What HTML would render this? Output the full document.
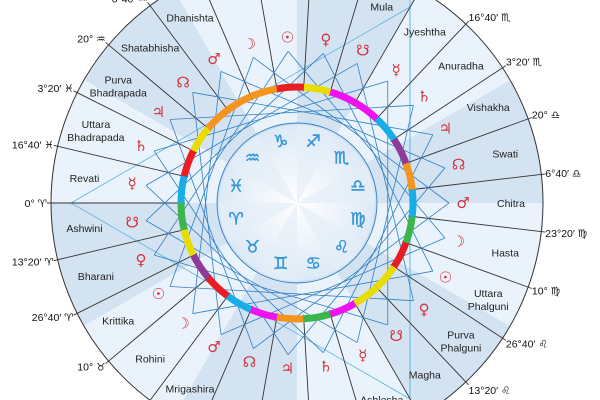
<!DOCTYPE html>
<html><head><meta charset="utf-8"><style>
html,body{margin:0;padding:0;background:#fff;width:600px;height:400px;overflow:hidden}
svg{display:block;overflow:hidden}
.nk{font-family:"Liberation Sans",sans-serif;font-size:10.5px;fill:#222;text-anchor:middle}
.dg{font-family:"Liberation Sans","DejaVu Sans",sans-serif;font-size:10.5px;fill:#111}
.pl{font-family:"DejaVu Sans",sans-serif;font-size:15px;fill:#d2333b;text-anchor:middle;dominant-baseline:central}
.sg{font-family:"DejaVu Sans",sans-serif;font-size:17px;font-weight:bold;fill:#3a98d6;text-anchor:middle;dominant-baseline:central;stroke:#3a98d6;stroke-width:0.5}
</style></head><body>
<svg width="600" height="400" viewBox="0 0 600 400" xmlns="http://www.w3.org/2000/svg">
<defs>
<radialGradient id="cg" cx="0" cy="0" r="80" gradientUnits="userSpaceOnUse">
<stop offset="0" stop-color="#ffffff"/><stop offset="1" stop-color="#c9ddf0"/>
</radialGradient>
<clipPath id="cp"><rect x="-297" y="-203" width="600" height="400"/></clipPath>
<path id="wd" d="M0 0 L-246 0 A246 246 0 0 0 -213.04 123 Z" fill="#d4e3f2"/>
<path id="wl" d="M0 0 L-246 0 A246 246 0 0 0 -213.04 123 Z" fill="#eaf3fb"/>
<path id="iw" d="M0 0 L-80 0 A80 80 0 0 0 -69.28 40 Z" fill="#d7e6f4" opacity="0.7"/>
<line id="ch" x1="-152" y1="0" x2="43.6" y2="145.6" stroke="#2f7fc4" stroke-width="0.8"/>
<line id="bl" x1="-112" y1="0" x2="-250" y2="0" stroke="#333" stroke-width="0.9"/>
</defs>
<g transform="translate(297,203)" clip-path="url(#cp)">
<use href="#wd" transform="rotate(0)"/><use href="#wl" transform="rotate(-30)"/>
<use href="#wd" transform="rotate(-60)"/><use href="#wl" transform="rotate(-90)"/>
<use href="#wd" transform="rotate(-120)"/><use href="#wl" transform="rotate(-150)"/>
<use href="#wd" transform="rotate(-180)"/><use href="#wl" transform="rotate(-210)"/>
<use href="#wd" transform="rotate(-240)"/><use href="#wl" transform="rotate(-270)"/>
<use href="#wd" transform="rotate(-300)"/><use href="#wl" transform="rotate(-330)"/>
<circle r="246" fill="none" stroke="#333" stroke-width="1"/>
<circle r="80" fill="url(#cg)"/>
<use href="#iw" transform="rotate(0)"/><use href="#iw" transform="rotate(-60)"/>
<use href="#iw" transform="rotate(-120)"/><use href="#iw" transform="rotate(-180)"/>
<use href="#iw" transform="rotate(-240)"/><use href="#iw" transform="rotate(-300)"/>
<circle r="78" fill="#ffffff" opacity="0.35"/>
<circle r="80" fill="none" stroke="#2f7fc4" stroke-width="0.9"/>
<polygon points="-226,0 113,-196 113,196" fill="none" stroke="#5bb4e0" stroke-width="0.8"/>
<line x1="113" y1="-203" x2="113" y2="196" stroke="#5bb4e0" stroke-width="0.8"/>
<use href="#bl" transform="rotate(0)"/><use href="#bl" transform="rotate(-13.333)"/><use href="#bl" transform="rotate(-26.667)"/>
<use href="#bl" transform="rotate(-40)"/><use href="#bl" transform="rotate(-53.333)"/><use href="#bl" transform="rotate(-66.667)"/>
<use href="#bl" transform="rotate(-80)"/><use href="#bl" transform="rotate(-93.333)"/><use href="#bl" transform="rotate(-106.667)"/>
<use href="#bl" transform="rotate(-120)"/><use href="#bl" transform="rotate(-133.333)"/><use href="#bl" transform="rotate(-146.667)"/>
<use href="#bl" transform="rotate(-160)"/><use href="#bl" transform="rotate(-173.333)"/><use href="#bl" transform="rotate(-186.667)"/>
<use href="#bl" transform="rotate(-200)"/><use href="#bl" transform="rotate(-213.333)"/><use href="#bl" transform="rotate(-226.667)"/>
<use href="#bl" transform="rotate(-240)"/><use href="#bl" transform="rotate(-253.333)"/><use href="#bl" transform="rotate(-266.667)"/>
<use href="#bl" transform="rotate(-280)"/><use href="#bl" transform="rotate(-293.333)"/><use href="#bl" transform="rotate(-306.667)"/>
<use href="#bl" transform="rotate(-320)"/><use href="#bl" transform="rotate(-333.333)"/><use href="#bl" transform="rotate(-346.667)"/>
<g>
<use href="#ch" transform="rotate(-6.667)"/><use href="#ch" transform="rotate(-20)"/><use href="#ch" transform="rotate(-33.333)"/>
<use href="#ch" transform="rotate(-46.667)"/><use href="#ch" transform="rotate(-60)"/><use href="#ch" transform="rotate(-73.333)"/>
<use href="#ch" transform="rotate(-86.667)"/><use href="#ch" transform="rotate(-100)"/><use href="#ch" transform="rotate(-113.333)"/>
<use href="#ch" transform="rotate(-126.667)"/><use href="#ch" transform="rotate(-140)"/><use href="#ch" transform="rotate(-153.333)"/>
<use href="#ch" transform="rotate(-166.667)"/><use href="#ch" transform="rotate(-180)"/><use href="#ch" transform="rotate(-193.333)"/>
<use href="#ch" transform="rotate(-206.667)"/><use href="#ch" transform="rotate(-220)"/><use href="#ch" transform="rotate(-233.333)"/>
<use href="#ch" transform="rotate(-246.667)"/><use href="#ch" transform="rotate(-260)"/><use href="#ch" transform="rotate(-273.333)"/>
<use href="#ch" transform="rotate(-286.667)"/><use href="#ch" transform="rotate(-300)"/><use href="#ch" transform="rotate(-313.333)"/>
<use href="#ch" transform="rotate(-326.667)"/><use href="#ch" transform="rotate(-340)"/><use href="#ch" transform="rotate(-353.333)"/>
</g>
<g fill="none" stroke-width="7">
<path d="M-116 0 A116 116 0 0 0 -112.87 26.75" stroke="#3cb54a" transform="rotate(0)"/>
<path d="M-116 0 A116 116 0 0 0 -112.87 26.75" stroke="#e8dc00" transform="rotate(-13.333)"/>
<path d="M-116 0 A116 116 0 0 0 -112.87 26.75" stroke="#8e3a96" transform="rotate(-26.667)"/>
<path d="M-116 0 A116 116 0 0 0 -112.87 26.75" stroke="#ea1c24" transform="rotate(-40)"/>
<path d="M-116 0 A116 116 0 0 0 -112.87 26.75" stroke="#17aee8" transform="rotate(-53.333)"/>
<path d="M-116 0 A116 116 0 0 0 -112.87 26.75" stroke="#f112f0" transform="rotate(-66.667)"/>
<path d="M-116 0 A116 116 0 0 0 -112.87 26.75" stroke="#f7941d" transform="rotate(-80)"/>
<path d="M-116 0 A116 116 0 0 0 -112.87 26.75" stroke="#3cb54a" transform="rotate(-93.333)"/>
<path d="M-116 0 A116 116 0 0 0 -112.87 26.75" stroke="#f112f0" transform="rotate(-106.667)"/>
<path d="M-116 0 A116 116 0 0 0 -112.87 26.75" stroke="#e8dc00" transform="rotate(-120)"/>
<path d="M-116 0 A116 116 0 0 0 -112.87 26.75" stroke="#e8dc00" transform="rotate(-133.333)"/>
<path d="M-116 0 A116 116 0 0 0 -112.87 26.75" stroke="#ea1c24" transform="rotate(-146.667)"/>
<path d="M-116 0 A116 116 0 0 0 -112.87 26.75" stroke="#3cb54a" transform="rotate(-160)"/>
<path d="M-116 0 A116 116 0 0 0 -112.87 26.75" stroke="#17aee8" transform="rotate(-173.333)"/>
<path d="M-116 0 A116 116 0 0 0 -112.87 26.75" stroke="#f7941d" transform="rotate(-186.667)"/>
<path d="M-116 0 A116 116 0 0 0 -112.87 26.75" stroke="#8e3a96" transform="rotate(-200)"/>
<path d="M-116 0 A116 116 0 0 0 -112.87 26.75" stroke="#17aee8" transform="rotate(-213.333)"/>
<path d="M-116 0 A116 116 0 0 0 -112.87 26.75" stroke="#f112f0" transform="rotate(-226.667)"/>
<path d="M-116 0 A116 116 0 0 0 -112.87 26.75" stroke="#f112f0" transform="rotate(-240)"/>
<path d="M-116 0 A116 116 0 0 0 -112.87 26.75" stroke="#e8dc00" transform="rotate(-253.333)"/>
<path d="M-116 0 A116 116 0 0 0 -112.87 26.75" stroke="#ea1c24" transform="rotate(-266.667)"/>
<path d="M-116 0 A116 116 0 0 0 -112.87 26.75" stroke="#f7941d" transform="rotate(-280)"/>
<path d="M-116 0 A116 116 0 0 0 -112.87 26.75" stroke="#f7941d" transform="rotate(-293.333)"/>
<path d="M-116 0 A116 116 0 0 0 -112.87 26.75" stroke="#f7941d" transform="rotate(-306.667)"/>
<path d="M-116 0 A116 116 0 0 0 -112.87 26.75" stroke="#e8dc00" transform="rotate(-320)"/>
<path d="M-116 0 A116 116 0 0 0 -112.87 26.75" stroke="#ea1c24" transform="rotate(-333.333)"/>
<path d="M-116 0 A116 116 0 0 0 -112.87 26.75" stroke="#17aee8" transform="rotate(-346.667)"/>
</g>
<g class="sg">
<text transform="rotate(-15) translate(-63 0) rotate(15)">♈</text>
<text transform="rotate(-45) translate(-63 0) rotate(45)">♉</text>
<text transform="rotate(-75) translate(-63 0) rotate(75)">♊</text>
<text transform="rotate(-105) translate(-63 0) rotate(105)">♋</text>
<text transform="rotate(-135) translate(-63 0) rotate(135)">♌</text>
<text transform="rotate(-165) translate(-63 0) rotate(165)">♍</text>
<text transform="rotate(-195) translate(-63 0) rotate(195)">♎</text>
<text transform="rotate(-225) translate(-63 0) rotate(225)">♏</text>
<text transform="rotate(-255) translate(-63 0) rotate(255)">♐</text>
<text transform="rotate(-285) translate(-63 0) rotate(285)">♑</text>
<text transform="rotate(-315) translate(-63 0) rotate(315)">♒</text>
<text transform="rotate(-345) translate(-63 0) rotate(345)">♓</text>
</g>
<g class="pl">
<text transform="rotate(-6.667) translate(-166 0) rotate(6.667)">☋</text>
<text transform="rotate(-20) translate(-166 0) rotate(20)">♀</text>
<text transform="rotate(-33.333) translate(-166 0) rotate(33.333)">☉</text>
<text transform="rotate(-46.667) translate(-166 0) rotate(46.667)">☽</text>
<text transform="rotate(-60) translate(-166 0) rotate(60)">♂</text>
<text transform="rotate(-73.333) translate(-166 0) rotate(73.333)">☊</text>
<text transform="rotate(-86.667) translate(-166 0) rotate(86.667)">♃</text>
<text transform="rotate(-100) translate(-166 0) rotate(100)">♄</text>
<text transform="rotate(-113.333) translate(-166 0) rotate(113.333)">☿</text>
<text transform="rotate(-126.667) translate(-166 0) rotate(126.667)">☋</text>
<text transform="rotate(-140) translate(-166 0) rotate(140)">♀</text>
<text transform="rotate(-153.333) translate(-166 0) rotate(153.333)">☉</text>
<text transform="rotate(-166.667) translate(-166 0) rotate(166.667)">☽</text>
<text transform="rotate(-180) translate(-166 0) rotate(180)">♂</text>
<text transform="rotate(-193.333) translate(-166 0) rotate(193.333)">☊</text>
<text transform="rotate(-206.667) translate(-166 0) rotate(206.667)">♃</text>
<text transform="rotate(-220) translate(-166 0) rotate(220)">♄</text>
<text transform="rotate(-233.333) translate(-166 0) rotate(233.333)">☿</text>
<text transform="rotate(-246.667) translate(-166 0) rotate(246.667)">☋</text>
<text transform="rotate(-260) translate(-166 0) rotate(260)">♀</text>
<text transform="rotate(-273.333) translate(-166 0) rotate(273.333)">☉</text>
<text transform="rotate(-286.667) translate(-166 0) rotate(286.667)">☽</text>
<text transform="rotate(-300) translate(-166 0) rotate(300)">♂</text>
<text transform="rotate(-313.333) translate(-166 0) rotate(313.333)">☊</text>
<text transform="rotate(-326.667) translate(-166 0) rotate(326.667)">♃</text>
<text transform="rotate(-340) translate(-166 0) rotate(340)">♄</text>
<text transform="rotate(-353.333) translate(-166 0) rotate(353.333)">☿</text>
</g>
<g class="nk">
<text transform="rotate(-6.667) translate(-214 0) rotate(6.667)" dy="4">Ashwini</text>
<text transform="rotate(-20) translate(-214 0) rotate(20)" dy="4">Bharani</text>
<text transform="rotate(-33.333) translate(-214 0) rotate(33.333)" dy="4">Krittika</text>
<text transform="rotate(-46.667) translate(-214 0) rotate(46.667)" dy="4">Rohini</text>
<text transform="rotate(-60) translate(-214 0) rotate(60)" dy="4">Mrigashira</text>
<text transform="rotate(-113.333) translate(-214 0) rotate(113.333)" dy="4">Ashlesha</text>
<text transform="rotate(-126.667) translate(-214 0) rotate(126.667)" dy="4">Magha</text>
<text transform="rotate(-140) translate(-214 0) rotate(140)"><tspan x="0" dy="-2">Purva</tspan><tspan x="0" dy="13">Phalguni</tspan></text>
<text transform="rotate(-153.333) translate(-214 0) rotate(153.333)"><tspan x="0" dy="-2">Uttara</tspan><tspan x="0" dy="13">Phalguni</tspan></text>
<text transform="rotate(-166.667) translate(-214 0) rotate(166.667)" dy="4">Hasta</text>
<text transform="rotate(-180) translate(-214 0) rotate(180)" dy="4">Chitra</text>
<text transform="rotate(-193.333) translate(-214 0) rotate(193.333)" dy="4">Swati</text>
<text transform="rotate(-206.667) translate(-214 0) rotate(206.667)" dy="4">Vishakha</text>
<text transform="rotate(-220) translate(-214 0) rotate(220)" dy="4">Anuradha</text>
<text transform="rotate(-233.333) translate(-214 0) rotate(233.333)" dy="4">Jyeshtha</text>
<text transform="rotate(-246.667) translate(-214 0) rotate(246.667)" dy="4">Mula</text>
<text transform="rotate(-300) translate(-214 0) rotate(300)" dy="4">Dhanishta</text>
<text transform="rotate(-313.333) translate(-214 0) rotate(313.333)" dy="4">Shatabhisha</text>
<text transform="rotate(-326.667) translate(-214 0) rotate(326.667)"><tspan x="0" dy="-2">Purva</tspan><tspan x="0" dy="13">Bhadrapada</tspan></text>
<text transform="rotate(-340) translate(-214 0) rotate(340)"><tspan x="0" dy="-2">Uttara</tspan><tspan x="0" dy="13">Bhadrapada</tspan></text>
<text transform="rotate(-353.333) translate(-214 0) rotate(353.333)" dy="4">Revati</text>
</g>
<g class="dg">
<text text-anchor="end" transform="rotate(0) translate(-250 0) rotate(0)" dy="4">0° ♈</text>
<text text-anchor="end" transform="rotate(-13.333) translate(-250 0) rotate(13.333)" dy="5">13°20′ ♈</text>
<text text-anchor="end" transform="rotate(-26.667) translate(-250 0) rotate(26.667)" dy="6">26°40′ ♈</text>
<text text-anchor="end" transform="rotate(-40) translate(-250 0) rotate(40)" dy="7">10° ♉</text>
<text text-anchor="start" transform="rotate(-133.333) translate(-250 0) rotate(133.333)" dy="9">13°20′ ♌</text>
<text text-anchor="start" transform="rotate(-146.667) translate(-250 0) rotate(146.667)" dy="7">26°40′ ♌</text>
<text text-anchor="start" transform="rotate(-160) translate(-250 0) rotate(160)" dy="6">10° ♍</text>
<text text-anchor="start" transform="rotate(-173.333) translate(-250 0) rotate(173.333)" dy="5">23°20′ ♍</text>
<text text-anchor="start" transform="rotate(-186.667) translate(-250 0) rotate(186.667)" dy="3">6°40′ ♎</text>
<text text-anchor="start" transform="rotate(-200) translate(-250 0) rotate(200)" dy="1">20° ♎</text>
<text text-anchor="start" transform="rotate(-213.333) translate(-250 0) rotate(213.333)" dy="0">3°20′ ♏</text>
<text text-anchor="start" transform="rotate(-226.667) translate(-250 0) rotate(226.667)" dy="0">16°40′ ♏</text>
<text text-anchor="end" transform="rotate(-306.667) translate(-250 0) rotate(306.667)" dy="0">6°40′ ♒</text>
<text text-anchor="end" transform="rotate(-320) translate(-250 0) rotate(320)" dy="0">20° ♒</text>
<text text-anchor="end" transform="rotate(-333.333) translate(-250 0) rotate(333.333)" dy="1">3°20′ ♓</text>
<text text-anchor="end" transform="rotate(-346.667) translate(-250 0) rotate(346.667)" dy="3">16°40′ ♓</text>
</g>
</g>
</svg>
</body></html>
